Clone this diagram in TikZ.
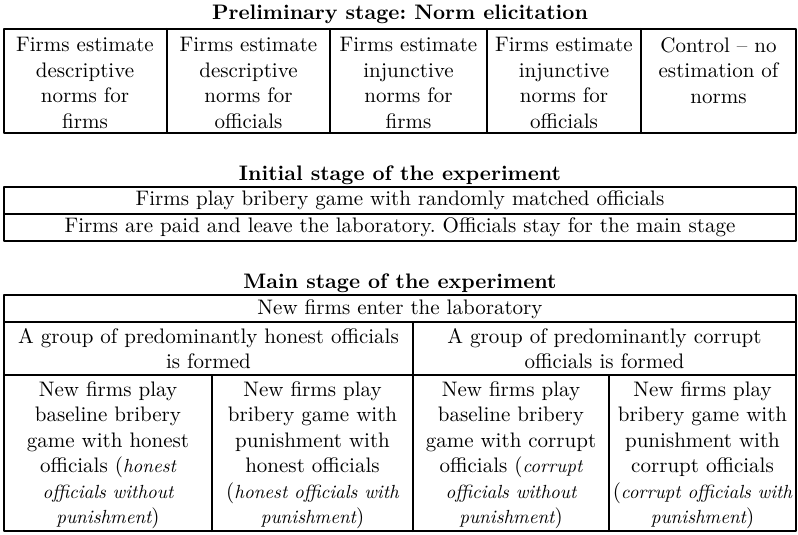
\documentclass[tikz,border=0pt]{standalone}
\usetikzlibrary{positioning}
\frenchspacing
\newcommand{\itl}[1]{{\fontsize{9.5}{12.75}\selectfont\itshape #1}}

\begin{document}
\begin{tikzpicture}[x=0.5pt, y=-0.5pt, line cap=round, line join=round,
	cell/.style={align=center, inner sep=0pt, font=\fontsize{10.5}{12.75}\selectfont},
	head/.style={inner sep=0pt, font=\fontsize{10.5}{12.75}\selectfont\bfseries},
	rule/.style={line width=1pt}]
		\useasboundingbox (0,0) rectangle (798,535);
		% preliminary stage
		\node[head] (prehead) at (400,14) {Preliminary stage: Norm elicitation};
		\draw [rule] (4,29) rectangle (796,133);
		\foreach \x in {167,330,487,641}
			\draw [rule] (\x,29) -- (\x,133);
		\node[cell, anchor=north] (desfirm) at (85,37) {Firms estimate\\descriptive\\norms for\\firms};
		\node[cell, anchor=north] (desoff) at (248.5,37) {Firms estimate\\descriptive\\norms for\\officials};
		\node[cell, anchor=north] (injfirm) at (408.5,37) {Firms estimate\\injunctive\\norms for\\firms};
		\node[cell, anchor=north] (injoff) at (564,37) {Firms estimate\\injunctive\\norms for\\officials};
		\node[cell, anchor=north] (control) at (718.5,37) {Control -- no\\estimation of\\norms};
		% initial stage
		\node[head] (inihead) at (400,175) {Initial stage of the experiment};
		\draw [rule] (4,187) rectangle (796,241);
		\draw [rule] (4,214) -- (796,214);
		\node[cell] (play) at (400,200.5) {Firms play bribery game with randomly matched officials};
		\node[cell] (paid) at (400,227.5) {Firms are paid and leave the laboratory. Officials stay for the main stage};
		% main stage
		\node[head] (mainhead) at (400,283) {Main stage of the experiment};
		\draw [rule] (4,295) rectangle (796,531);
		\draw [rule] (4,322) -- (796,322);
		\draw [rule] (4,375) -- (796,375);
		\draw [rule] (413,322) -- (413,531);
		\draw [rule] (212,375) -- (212,531);
		\draw [rule] (609,375) -- (609,531);
		\node[cell] (enter) at (400,309) {New firms enter the laboratory};
		\node[cell] (honest) at (208.5,348.5) {A group of predominantly honest officials\\is formed};
		\node[cell] (corrupt) at (604.5,348.5) {A group of predominantly corrupt\\officials is formed};
		\node[cell, anchor=north] (honbase) at (108,381) {New firms play\\baseline bribery\\game with honest\\officials (\itl{honest}\\\itl{officials without}\\\itl{punishment})};
		\node[cell, anchor=north] (honpun) at (312.5,381) {New firms play\\bribery game with\\punishment with\\honest officials\\(\itl{honest officials with}\\\itl{punishment})};
		\node[cell, anchor=north] (corbase) at (511,381) {New firms play\\baseline bribery\\game with corrupt\\officials (\itl{corrupt}\\\itl{officials without}\\\itl{punishment})};
		\node[cell, anchor=north] (corpun) at (702.5,381) {New firms play\\bribery game with\\punishment with\\corrupt officials\\(\itl{corrupt officials with}\\\itl{punishment})};
	\end{tikzpicture}
\end{document}
